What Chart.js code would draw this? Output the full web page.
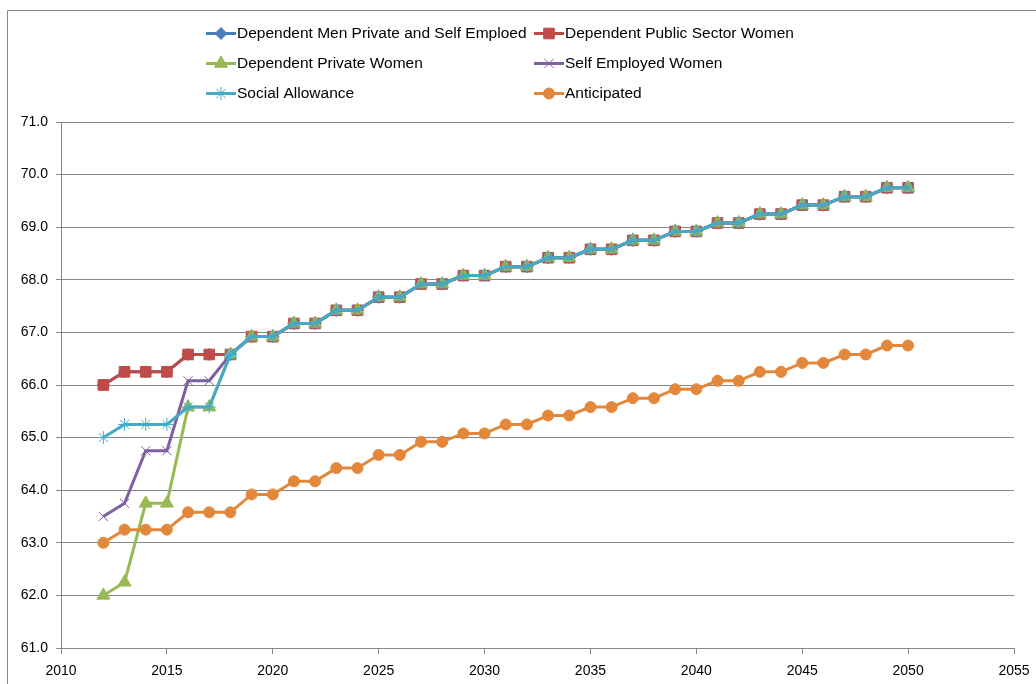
<!DOCTYPE html>
<html>
<head>
<meta charset="utf-8">
<script src="https://cdn.jsdelivr.net/npm/chart.js@4.4.1/dist/chart.umd.min.js"></script>
<style>
  html, body { margin: 0; padding: 0; background: #fff; }
  #grafica { display: block; }
</style>
</head>
<body>
<canvas id="grafica" width="1036" height="684"></canvas>
<script>
// años (eje x)
const years = [2012, 2013, 2014, 2015, 2016, 2017, 2018, 2019, 2020, 2021,
  2022, 2023, 2024, 2025, 2026, 2027, 2028, 2029, 2030, 2031,
  2032, 2033, 2034, 2035, 2036, 2037, 2038, 2039, 2040, 2041,
  2042, 2043, 2044, 2045, 2046, 2047, 2048, 2049, 2050]

// tramo comun 2018-2050, todas las series salvo Anticipated coinciden
const convergedTail = [66.58, 66.92, 66.92, 67.17, 67.17, 67.42, 67.42, 67.67, 67.67,
  67.92, 67.92, 68.08, 68.08, 68.25, 68.25, 68.42, 68.42, 68.58, 68.58,
  68.75, 68.75, 68.92, 68.92, 69.08, 69.08, 69.25, 69.25, 69.42, 69.42,
  69.58, 69.58, 69.75, 69.75]

// 2012-2017
const menPrivateSelf = [66.0, 66.25, 66.25, 66.25, 66.58, 66.58].concat(convergedTail)
const publicSectorWomen = [66.0, 66.25, 66.25, 66.25, 66.58, 66.58].concat(convergedTail)
const privateWomen = [62.0, 62.25, 63.75, 63.75, 65.58, 65.58].concat(convergedTail)
const selfEmployedWomen = [63.5, 63.75, 64.75, 64.75, 66.08, 66.08].concat(convergedTail)
const socialAllowance = [65.0, 65.25, 65.25, 65.25, 65.58, 65.58].concat(convergedTail)

const anticipated = [63.0, 63.25, 63.25, 63.25, 63.58, 63.58, 63.58, 63.92, 63.92,
  64.17, 64.17, 64.42, 64.42, 64.67, 64.67, 64.92, 64.92, 65.08, 65.08,
  65.25, 65.25, 65.42, 65.42, 65.58, 65.58, 65.75, 65.75, 65.92, 65.92,
  66.08, 66.08, 66.25, 66.25, 66.42, 66.42, 66.58, 66.58, 66.75, 66.75]

const seriesLabels = [
  'Dependent Men Private and Self Emploed',
  'Dependent Public Sector Women',
  'Dependent Private Women',
  'Self Employed Women',
  'Social Allowance',
  'Anticipated'
]

const yTicks = { min: 61, max: 71, step: 1 }
const xTicks = { min: 2010, max: 2055, step: 5 }

const FONT = '"Liberation Sans", Arial, sans-serif'
const GRIS = '#878787'

const toPoints = (values) => values.map((v, i) => ({ x: years[i], y: v }))

const makeDataset = (label, values, color, style, radius, order) => ({
  label : label,
  data : toPoints(values),
  borderColor : color,
  backgroundColor : color,
  pointBackgroundColor : color,
  pointBorderColor : color,
  borderWidth : 3,
  pointStyle : style,
  pointRadius : radius,
  pointHoverRadius : radius,
  pointBorderWidth : 1,
  tension : 0,
  order : order
})

// leyenda en dos columnas, como la original
const legendGrid = {
  id : 'legendGrid',
  afterDraw(chart) {
    const ctx = chart.ctx
    const drawPoint = Chart.helpers && Chart.helpers.drawPoint
    ctx.save()
    chart.data.datasets.forEach((ds, i) => {
      const col = i % 2
      const row = Math.floor(i / 2)
      const x0 = col === 0 ? 206 : 534
      const y = 33.5 + row * 30
      ctx.strokeStyle = ds.borderColor
      ctx.lineWidth = 3
      ctx.beginPath()
      ctx.moveTo(x0, y)
      ctx.lineTo(x0 + 30, y)
      ctx.stroke()
      ctx.fillStyle = ds.pointBackgroundColor
      ctx.strokeStyle = ds.pointBorderColor
      ctx.lineWidth = 1
      if (drawPoint) {
        drawPoint(ctx, { pointStyle : ds.pointStyle, radius : ds.pointRadius, borderWidth : 1, rotation : 0 }, x0 + 15, y)
      } else {
        ctx.beginPath(); ctx.arc(x0 + 15, y, 4, 0, Math.PI * 2); ctx.fill()
      }
      ctx.fillStyle = '#000'
      ctx.font = '15.5px ' + FONT
      ctx.textBaseline = 'middle'
      ctx.textAlign = 'left'
      ctx.fillText(ds.label, x0 + 31, y)
    })
    ctx.restore()
  }
}

// marco exterior (arriba e izquierda)
const frame = {
  id : 'frame',
  beforeDraw(chart) {
    const ctx = chart.ctx
    ctx.save()
    ctx.fillStyle = '#fff'
    ctx.fillRect(0, 0, chart.width, chart.height)
    ctx.strokeStyle = GRIS
    ctx.lineWidth = 1
    ctx.beginPath()
    ctx.moveTo(7.5, chart.height)
    ctx.lineTo(7.5, 10.5)
    ctx.lineTo(chart.width, 10.5)
    ctx.stroke()
    ctx.restore()
  }
}

const canvas = document.getElementById('grafica')
const context = canvas.getContext('2d')

const chartEdad = new Chart(context, {
  type : 'line',
  data : {
    datasets : [
      makeDataset(seriesLabels[0], menPrivateSelf, '#4A7EBB', 'rectRot', 6, 5),
      makeDataset(seriesLabels[1], publicSectorWomen, '#BE4B48', 'rect', 7.5, 4),
      makeDataset(seriesLabels[2], privateWomen, '#98B954', 'triangle', 7.5, 3),
      makeDataset(seriesLabels[3], selfEmployedWomen, '#7D60A0', 'crossRot', 6.5, 2),
      makeDataset(seriesLabels[4], socialAllowance, '#46AAC5', 'star', 6.5, 1),
      makeDataset(seriesLabels[5], anticipated, '#E3883B', 'circle', 5.5, 0)
    ]
  },
  options : {
    responsive : false,
    animation : false,
    events : [],
    layout : { padding : { top : 122, left : 6, right : 22, bottom : 0 } },
    plugins : {
      legend : { display : false },
      tooltip : { enabled : false }
    },
    scales : {
      x : {
        type : 'linear',
        min : xTicks.min,
        max : xTicks.max,
        ticks : {
          stepSize : xTicks.step,
          color : '#000',
          font : { size : 14, family : FONT },
          padding : 9,
          maxRotation : 0,
          callback : (v) => String(v)
        },
        grid : { drawOnChartArea : false, drawTicks : true, tickLength : 6, color : GRIS },
        border : { color : GRIS, width : 1 },
        afterFit : (scale) => {
          scale.height = 36
          scale.paddingRight = 0
          scale.paddingLeft = 0
        }
      },
      y : {
        min : yTicks.min,
        max : yTicks.max,
        ticks : {
          stepSize : yTicks.step,
          color : '#000',
          font : { size : 14, family : FONT },
          padding : 8,
          callback : (v) => v.toFixed(1)
        },
        grid : { color : GRIS, tickLength : 5, lineWidth : 1 },
        border : { color : GRIS, width : 1 },
        afterFit : (scale) => { scale.width = 55 }
      }
    }
  },
  plugins : [frame, legendGrid]
})
</script>
</body>
</html>
